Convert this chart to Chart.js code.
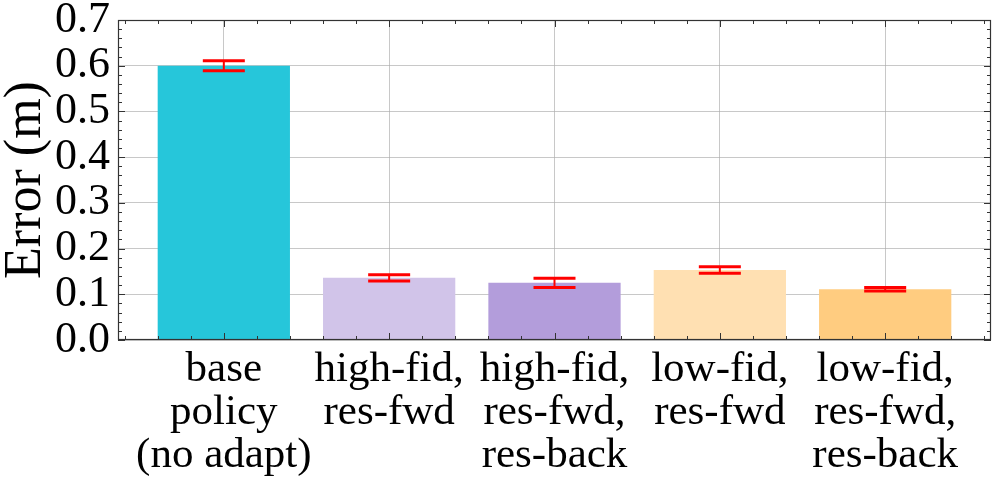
<!DOCTYPE html>
<html><head><meta charset="utf-8">
<script src="https://cdn.jsdelivr.net/npm/chart.js@4/dist/chart.umd.min.js"></script>
<style>html,body{margin:0;padding:0;background:#fff;}#wrap{width:996px;height:491px;position:relative;}</style>
</head><body><div id="wrap"><canvas id="c"></canvas></div>
<script>
const categories = [
  ["base", "policy", "(no adapt)"],
  ["high-fid,", "res-fwd"],
  ["high-fid,", "res-fwd,", "res-back"],
  ["low-fid,", "res-fwd"],
  ["low-fid,", "res-fwd,", "res-back"]
];
const errorMeans = [0.600, 0.136, 0.125, 0.153, 0.111];
const errorStd = [0.011, 0.007, 0.010, 0.007, 0.004];
const barColors = ["#26C6DA", "#D1C4E9", "#B39DDB", "#FFE0B2", "#FFCC80"];
const yTickValues = [0.0, 0.1, 0.2, 0.3, 0.4, 0.5, 0.6, 0.7];
const yTitle = "Error (m)";

const SERIF = "'Liberation Serif', 'Times New Roman', serif";

const decor = {
  id: 'decor',
  afterDraw(chart) {
    const {ctx, chartArea: a, scales: {x, y}} = chart;
    ctx.save();
    // inward ticks
    ctx.strokeStyle = '#333';
    ctx.lineWidth = 1;
    ctx.beginPath();
    for (let k = 0; k <= 35; k++) {
      const v = k * 0.02;
      const py = Math.round(y.getPixelForValue(v)) + 0.5;
      const len = (k % 5 === 0) ? 7 : 4;
      ctx.moveTo(a.left, py); ctx.lineTo(a.left + len, py);
      ctx.moveTo(a.right, py); ctx.lineTo(a.right - len, py);
    }
    for (let k = -3; k <= 23; k++) {
      const v = k * 0.2;
      if (v < x.min || v > x.max) continue;
      const px = Math.round(x.getPixelForValue(v)) + 0.5;
      const len = (k % 5 === 0) ? 7 : 4;
      ctx.moveTo(px, a.bottom); ctx.lineTo(px, a.bottom - len);
      ctx.moveTo(px, a.top); ctx.lineTo(px, a.top + len);
    }
    ctx.stroke();
    // frame
    ctx.strokeStyle = '#333';
    ctx.lineWidth = 1.2;
    ctx.strokeRect(a.left + 0.5, a.top + 0.5, a.right - a.left - 1, a.bottom - a.top - 1);
    // error bars
    const meta = chart.getDatasetMeta(0);
    ctx.strokeStyle = '#ff0000';
    meta.data.forEach((bar, i) => {
      const cx = bar.x;
      const yt = y.getPixelForValue(errorMeans[i] + errorStd[i]);
      const yb = y.getPixelForValue(errorMeans[i] - errorStd[i]);
      ctx.lineWidth = 2;
      ctx.beginPath(); ctx.moveTo(cx, yt); ctx.lineTo(cx, yb); ctx.stroke();
      ctx.lineWidth = 3;
      ctx.beginPath();
      ctx.moveTo(cx - 21, yt); ctx.lineTo(cx + 21, yt);
      ctx.moveTo(cx - 21, yb); ctx.lineTo(cx + 21, yb);
      ctx.stroke();
    });
    ctx.restore();
  }
};

new Chart(document.getElementById('c'), {
  type: 'bar',
  data: {
    datasets: [{
      data: errorMeans.map((v, i) => ({x: i, y: v})),
      backgroundColor: barColors,
      borderWidth: 0,
      categoryPercentage: 1.0,
      barPercentage: 0.8
    }]
  },
  options: {
    responsive: true,
    maintainAspectRatio: false,
    animation: false,
    devicePixelRatio: 1,
    layout: {padding: {top: 20, right: 5, left: 0, bottom: 0}},
    plugins: {legend: {display: false}, tooltip: {enabled: false}},
    scales: {
      x: {
        type: 'linear',
        min: -0.64,
        max: 4.64,
        offset: false,
        z: 1,
        afterBuildTicks: s => { s.ticks = categories.map((_, i) => ({value: i})); },
        afterFit: s => { s.height = 151; s.paddingLeft = 0; s.paddingRight = 0; },
        grid: {color: 'rgba(170,170,170,0.65)', lineWidth: 1, drawTicks: false, offset: false},
        border: {display: false},
        ticks: {
          color: '#000',
          padding: 8,
          maxRotation: 0,
          autoSkip: false,
          font: {family: SERIF, size: 43, lineHeight: 1.0},
          callback: v => categories[v]
        }
      },
      y: {
        min: 0,
        max: 0.7,
        z: 1,
        afterBuildTicks: s => { s.ticks = yTickValues.map(v => ({value: v})); },
        afterFit: s => { s.width = 118; s.paddingTop = 0; s.paddingBottom = 0; },
        grid: {color: 'rgba(170,170,170,0.65)', lineWidth: 1, drawTicks: false},
        border: {display: false},
        ticks: {
          color: '#000',
          padding: 8,
          autoSkip: false,
          font: {family: SERIF, size: 44, lineHeight: 1.0},
          callback: v => Number(v).toFixed(1)
        },
        title: {
          display: true,
          text: yTitle,
          color: '#000',
          font: {family: SERIF, size: 52, lineHeight: 1.0},
          padding: {top: 0, bottom: 0}
        }
      }
    }
  },
  plugins: [decor]
});
</script>
</body></html>
